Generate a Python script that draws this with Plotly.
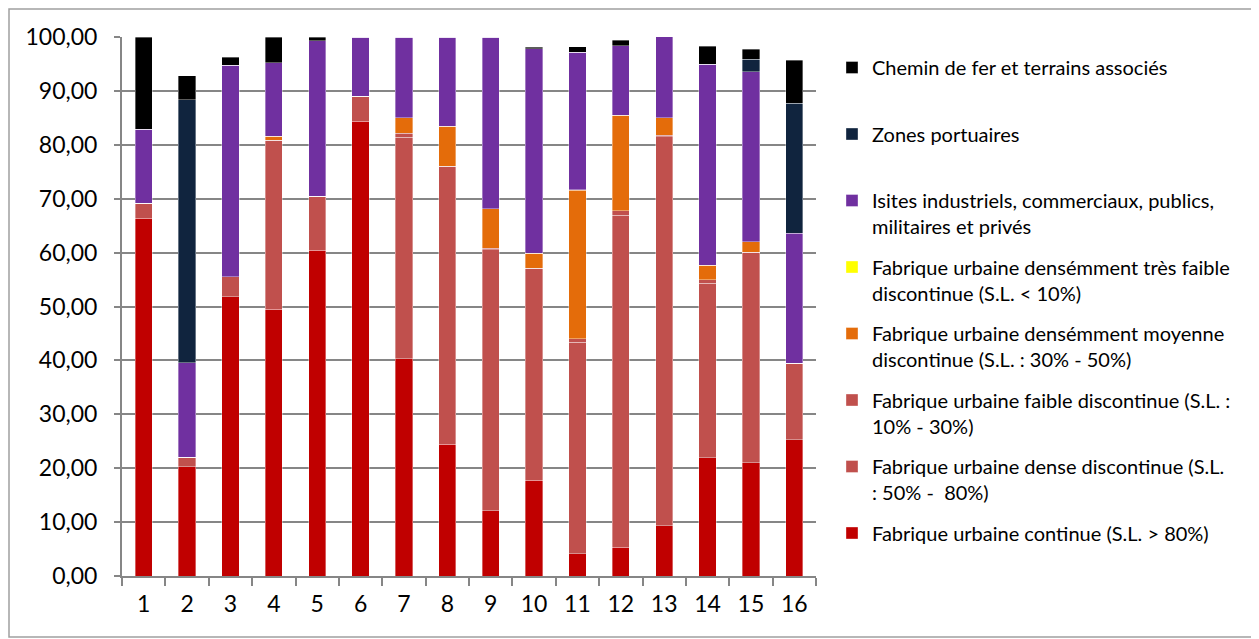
import plotly.graph_objects as go

categories = [str(i) for i in range(1, 17)]

continue_ = [66.4, 20.3, 51.8, 49.5, 60.4, 84.4, 40.3, 24.4, 12.1, 17.8, 4.1, 5.3, 9.3, 21.9, 21.0, 25.3]
dense_disc = [2.8, 1.7, 3.7, 31.3, 10.1, 4.6, 41.1, 51.6, 48.4, 39.3, 39.3, 61.6, 72.2, 32.4, 39.1, 14.2]
faible_disc = [0, 0, 0, 0, 0, 0, 0.7, 0, 0.3, 0, 0.6, 0.9, 0.3, 0.7, 0, 0]
moyenne_disc = [0, 0, 0, 0.8, 0, 0, 2.9, 7.4, 7.3, 2.8, 27.6, 17.7, 3.2, 2.7, 1.9, 0]
tres_faible = [0, 0, 0, 0, 0, 0, 0, 0, 0, 0, 0.1, 0, 0, 0, 0, 0]
isites = [13.7, 17.6, 39.3, 13.6, 28.8, 11.0, 15.0, 16.6, 31.9, 37.9, 25.5, 12.9, 15.2, 37.2, 31.6, 24.1]
portuaires = [0, 48.8, 0, 0, 0, 0, 0, 0, 0, 0, 0, 0, 0, 0, 2.3, 24.1]
chemin = [17.1, 4.4, 1.4, 4.8, 0.7, 0, 0, 0, 0, 0.3, 1.0, 1.0, 0, 3.4, 1.8, 8.0]

y_ticks = list(range(0, 101, 10))

series = [
    ("Fabrique urbaine continue (S.L. > 80%)", continue_, "#C00000"),
    ("Fabrique urbaine dense discontinue (S.L.<br>: 50% -  80%)", dense_disc, "#C0504D"),
    ("Fabrique urbaine faible discontinue (S.L. :<br>10% - 30%)", faible_disc, "#C0504D"),
    ("Fabrique urbaine densémment moyenne<br>discontinue (S.L. : 30% - 50%)", moyenne_disc, "#E46C0A"),
    ("Fabrique urbaine densémment très faible<br>discontinue (S.L. < 10%)", tres_faible, "#FFFF00"),
    ("Isites industriels, commerciaux, publics,<br>militaires et privés", isites, "#7030A0"),
    ("Zones portuaires<br>&nbsp;", portuaires, "#10243E"),
    ("Chemin de fer et terrains associés<br>&nbsp;", chemin, "#000000"),
]

fig = go.Figure()
n = len(series)
for i, (name, vals, col) in enumerate(series):
    fig.add_trace(go.Bar(
        x=categories, y=vals, name=name, legendgroup=f"g{i}", legendrank=n - i,
        marker=dict(color=col, line=dict(color="rgba(255,255,255,0.45)", width=0.8)),
    ))

W, H = 1250, 630
L, T = 114, 29
R, B = 442, 62
pw, ph = W - L - R, H - T - B

fig.update_layout(
    width=W, height=H,
    barmode="stack", bargap=0.6,
    margin=dict(l=L, r=R, t=T, b=B),
    paper_bgcolor="white", plot_bgcolor="white",
    separators=", ",
    font=dict(family="Lato", color="#000000"),
    showlegend=True,
    legend=dict(
        x=(824 - L) / pw, y=1 - (40 - T) / ph, xanchor="left", yanchor="top",
        traceorder="grouped", tracegroupgap=11.5, valign="top",
        font=dict(family="Lato", size=20, color="#000000"),
        bgcolor="rgba(0,0,0,0)", maxheight=620,
    ),
    xaxis=dict(
        type="category", showgrid=False, showline=True, linecolor="#868686", linewidth=2,
        ticks="outside", tickson="boundaries", ticklen=8, tickcolor="#868686", tickwidth=2,
        tickfont=dict(family="Lato", size=23, color="#000000"), ticklabelstandoff=6,
    ),
    yaxis=dict(
        range=[0, 100], tickvals=y_ticks, tickformat=".2f",
        showgrid=True, gridcolor="#868686", gridwidth=2,
        showline=True, linecolor="#868686", linewidth=2,
        ticks="outside", ticklen=6, tickcolor="#868686", tickwidth=2,
        tickfont=dict(family="Lato", size=23, color="#000000"), ticklabelstandoff=12,
        zeroline=False,
    ),
    shapes=[dict(
        type="rect", xref="paper", yref="paper",
        x0=(-L + 1) / pw, x1=(W - L - 1) / pw,
        y0=(-B + 1) / ph, y1=(H - B - 1) / ph,
        line=dict(color="#A0A0A0", width=1.5), fillcolor="rgba(0,0,0,0)", layer="below",
    )],
)

fig.write_html("out.html")
